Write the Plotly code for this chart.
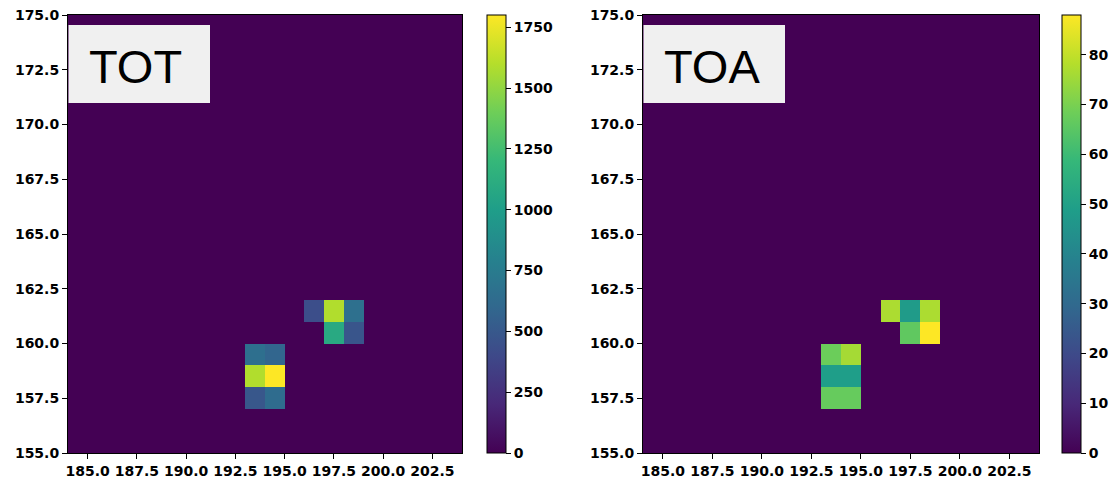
import numpy as np
import plotly.graph_objects as go

# Grid extent (1-unit cells)
x_edges_lo, x_edges_hi = 184, 204
y_edges_lo, y_edges_hi = 155, 175

# TOT map: non-zero cells (lower-left corner of each cell) and values
tot_x = [193, 194, 193, 194, 193, 194, 196, 197, 198, 197, 198]
tot_y = [159, 159, 158, 158, 157, 157, 161, 161, 161, 160, 160]
tot_values = [650, 590, 1590, 1800, 490, 630, 430, 1590, 660, 1090, 480]

# TOA map: non-zero cells and values
toa_x = [193, 194, 193, 194, 193, 194, 196, 197, 198, 197, 198]
toa_y = [159, 159, 158, 158, 157, 157, 161, 161, 161, 160, 160]
toa_values = [68, 76, 49, 49, 67, 67, 77, 48, 77, 66, 88]

x_ticks = [185.0, 187.5, 190.0, 192.5, 195.0, 197.5, 200.0, 202.5]
y_ticks = [155.0, 157.5, 160.0, 162.5, 165.0, 167.5, 170.0, 172.5, 175.0]
tot_cbar_ticks = [0, 250, 500, 750, 1000, 1250, 1500, 1750]
toa_cbar_ticks = [0, 10, 20, 30, 40, 50, 60, 70, 80]

xc = np.arange(x_edges_lo, x_edges_hi) + 0.5
yc = np.arange(y_edges_lo, y_edges_hi) + 0.5


def build_grid(xs, ys, vals):
    grid = np.zeros((len(yc), len(xc)))
    for cx, cy, v in zip(xs, ys, vals):
        grid[cy - y_edges_lo, cx - x_edges_lo] = v
    return grid


tot_grid = build_grid(tot_x, tot_y, tot_values)
toa_grid = build_grid(toa_x, toa_y, toa_values)

# Pixel layout helpers
W, H = 1115, 484
ML, MR, MT, MB = 68, 0, 15, 31
PW = W - ML - MR
PH = H - MT - MB


def px(p):
    return (p - ML) / PW


def py(p):
    return (H - MB - p) / PH


tick_font = dict(family="DejaVu Sans", size=14, color="black", weight="bold")


def cbar(xpix, ticks):
    return dict(
        x=px(xpix), xanchor="left", xpad=0, ypad=0,
        y=0, yanchor="bottom", len=PH, lenmode="pixels",
        thickness=19, thicknessmode="pixels",
        outlinecolor="black", outlinewidth=1,
        tickmode="array", tickvals=ticks,
        ticks="outside", ticklen=5, tickcolor="black",
        tickfont=tick_font,
    )


fig = go.Figure()
fig.add_trace(go.Heatmap(
    x=xc, y=yc, z=tot_grid, colorscale="Viridis",
    zmin=0, zmax=max(tot_values),
    colorbar=cbar(487, tot_cbar_ticks),
    xaxis="x", yaxis="y",
))
fig.add_trace(go.Heatmap(
    x=xc, y=yc, z=toa_grid, colorscale="Viridis",
    zmin=0, zmax=max(toa_values),
    colorbar=cbar(1062, toa_cbar_ticks),
    xaxis="x2", yaxis="y2",
))

axis_common = dict(
    showgrid=False, zeroline=False, showline=True, mirror=True,
    linecolor="black", linewidth=1, ticks="outside", ticklen=5,
    tickcolor="black", tickfont=tick_font, tickformat=".1f",
)

fig.update_layout(
    width=W, height=H,
    margin=dict(l=ML, r=MR, t=MT, b=MB),
    paper_bgcolor="white", plot_bgcolor="white",
    xaxis=dict(domain=[0, px(462)], range=[x_edges_lo, x_edges_hi],
               tickvals=x_ticks, anchor="y", **axis_common),
    yaxis=dict(domain=[0, 1], range=[y_edges_lo, y_edges_hi],
               tickvals=y_ticks, anchor="x", **axis_common),
    xaxis2=dict(domain=[px(643), px(1039)], range=[x_edges_lo, x_edges_hi],
                tickvals=x_ticks, anchor="y2", **axis_common),
    yaxis2=dict(domain=[0, 1], range=[y_edges_lo, y_edges_hi],
                tickvals=y_ticks, anchor="x2", **axis_common),
    showlegend=False,
)

# Label boxes in the upper-left corner of each map
for (bx0, tx, label) in [(68, 87, "TOT"), (643, 662, "TOA")]:
    fig.add_shape(type="rect", xref="paper", yref="paper",
                  x0=px(bx0 + 0.5), x1=px(bx0 + 142), y0=py(103), y1=py(25),
                  fillcolor="#f0f0f0", line=dict(width=0), layer="above")
    fig.add_annotation(xref="paper", yref="paper", x=px(tx), y=py(66),
                       xanchor="left", yanchor="middle", showarrow=False,
                       text=label,
                       font=dict(family="Liberation Sans", size=47, color="black"))

fig.write_html("out.html")
